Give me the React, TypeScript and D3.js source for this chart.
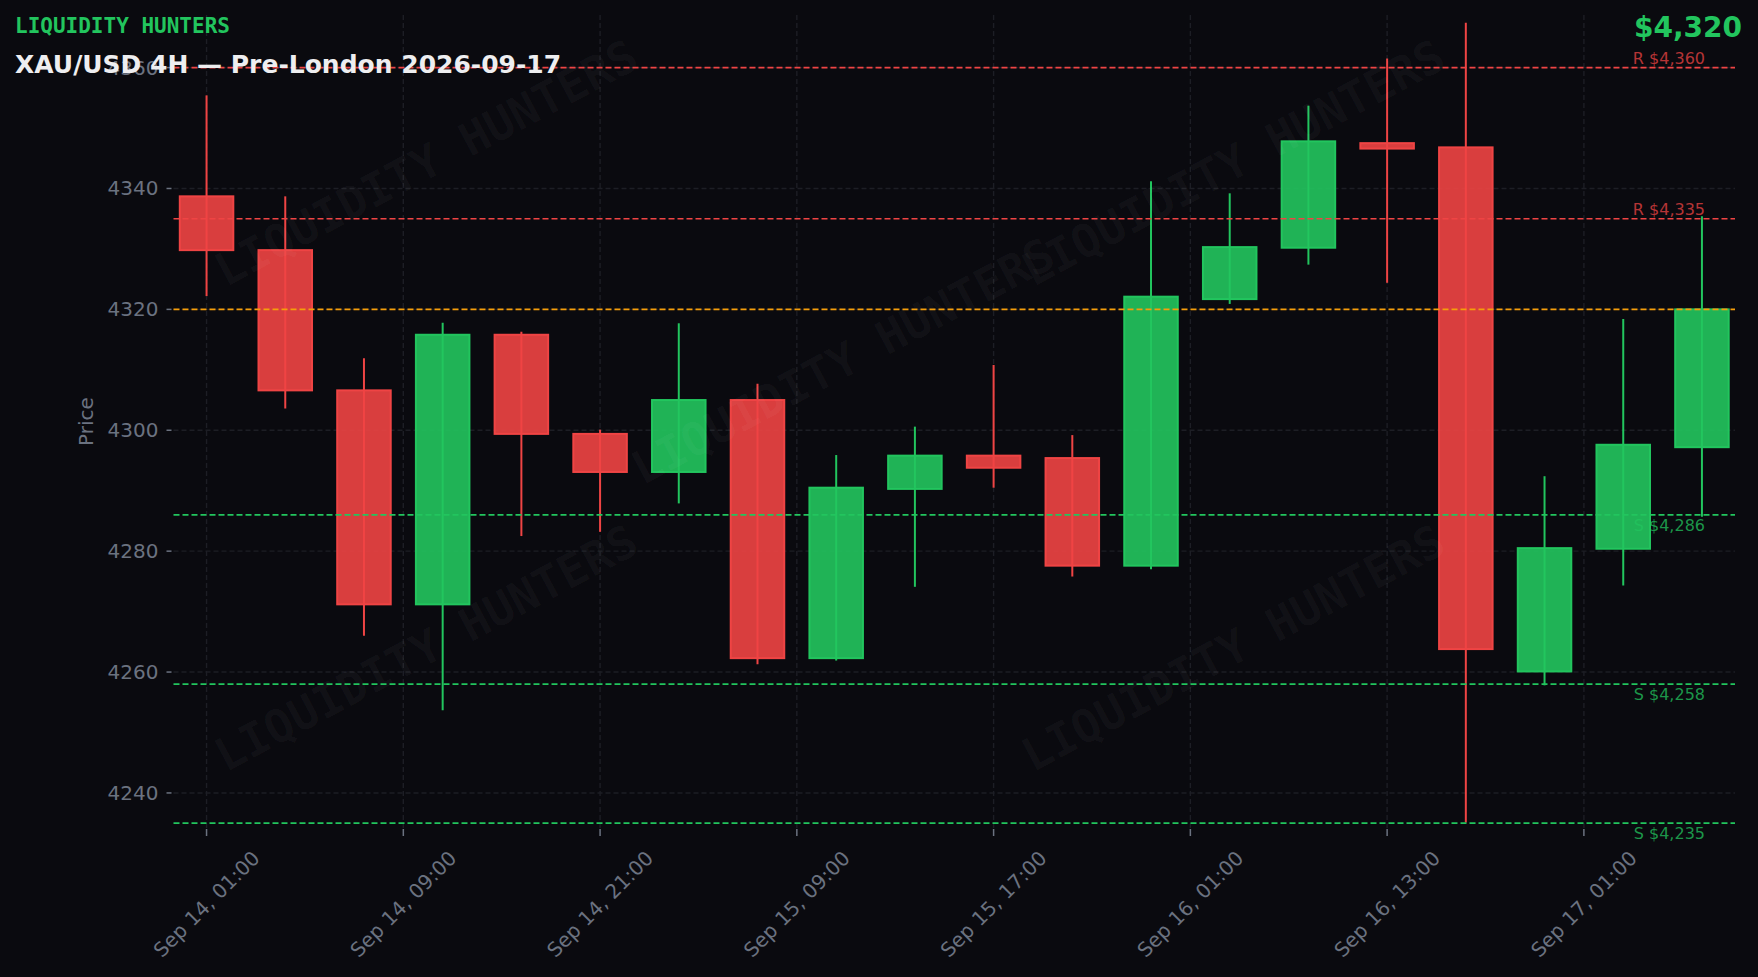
import React from "react";
import * as d3 from "d3";

// ---- data ----
const candleTimes = [
  "Sep 14, 01:00", "Sep 14, 05:00", "Sep 14, 09:00", "Sep 14, 13:00", "Sep 14, 17:00",
  "Sep 14, 21:00", "Sep 15, 01:00", "Sep 15, 05:00", "Sep 15, 09:00", "Sep 15, 13:00",
  "Sep 15, 17:00", "Sep 15, 21:00", "Sep 16, 01:00", "Sep 16, 05:00", "Sep 16, 09:00",
  "Sep 16, 13:00", "Sep 16, 17:00", "Sep 16, 21:00", "Sep 17, 01:00", "Sep 17, 05:00",
];
const opens = [4338.7, 4329.8, 4306.6, 4271.2, 4315.8, 4299.4, 4293.1, 4305.0, 4262.3, 4290.3,
  4295.8, 4295.4, 4277.6, 4321.7, 4330.2, 4347.5, 4346.8, 4260.1, 4280.4, 4297.2];
const highs = [4355.4, 4338.7, 4311.9, 4317.8, 4316.3, 4300.1, 4317.7, 4307.7, 4295.9, 4300.6,
  4310.8, 4299.2, 4341.2, 4339.2, 4353.7, 4361.5, 4367.4, 4292.4, 4318.4, 4335.4];
const lows = [4322.2, 4303.6, 4266.0, 4253.7, 4282.5, 4283.2, 4287.9, 4261.3, 4261.9, 4274.1,
  4290.5, 4275.8, 4277.0, 4320.9, 4327.4, 4324.4, 4235.1, 4257.8, 4274.3, 4285.7];
const closes = [4329.8, 4306.6, 4271.2, 4315.8, 4299.4, 4293.1, 4305.0, 4262.3, 4290.5, 4295.8,
  4293.8, 4277.6, 4322.1, 4330.3, 4347.8, 4346.6, 4263.8, 4280.5, 4297.6, 4320.0];

const xTickPositions = [0, 2.5, 5, 7.5, 10, 12.5, 15, 17.5];
const xTickLabels = [
  "Sep 14, 01:00", "Sep 14, 09:00", "Sep 14, 21:00", "Sep 15, 09:00",
  "Sep 15, 17:00", "Sep 16, 01:00", "Sep 16, 13:00", "Sep 17, 01:00",
];
const yTickValues = [4240, 4260, 4280, 4300, 4320, 4340, 4360];
const levelValues = [4360, 4335, 4286, 4258, 4235];
const levelKinds = ["R", "R", "S", "S", "S"];
const currentPrice = 4320;
const yDomain = [4234.2, 4368.7];

const brandText = "LIQUIDITY HUNTERS";
const titleText = "XAU/USD 4H \u2014 Pre-London 2026-09-17";

// ---- layout / style ----
const W = 1758;
const H = 977;
const plot = { left: 173.5, right: 1735, top: 15, bottom: 828 };
const BG = "#0a0a0f";
const RED = "#ef4444";
const GREEN = "#22c55e";
const ORANGE = "#f59e0b";
const GRID = "#1d1e25";
const AXIS_TEXT = "#6b7280";
const SANS = "'DejaVu Sans', sans-serif";
const MONO = "'DejaVu Sans Mono', monospace";
const watermarkSpots = [
  [0.1617, 0.182], [0.6785, 0.182], [0.4287, 0.4256], [0.1617, 0.7786], [0.6785, 0.7786],
];

export default function App() {
  const x = d3.scaleLinear().domain([-0.42, candleTimes.length - 1 + 0.42]).range([plot.left, plot.right]);
  const y = d3.scaleLinear().domain(yDomain).range([plot.bottom, plot.top]);
  const step = x(1) - x(0);
  const bodyW = step * 0.68;
  const fmt = d3.format(",");

  const candles = candleTimes.map((t, i) => ({
    t, i, o: opens[i], h: highs[i], l: lows[i], c: closes[i],
  }));

  return (
    <svg
      width={W}
      height={H}
      style={{ position: "absolute", left: 0, top: 0, display: "block" }}
      xmlns="http://www.w3.org/2000/svg"
    >
      <rect x={0} y={0} width={W} height={H} fill={BG} />

      {/* grid */}
      <g>
        {yTickValues.map((v) => (
          <line key={"gy" + v} x1={plot.left} x2={plot.right} y1={y(v)} y2={y(v)}
            stroke={GRID} strokeWidth={1.4} strokeDasharray="5,3" />
        ))}
        {xTickPositions.map((p) => (
          <line key={"gx" + p} x1={x(p)} x2={x(p)} y1={plot.top} y2={plot.bottom}
            stroke={GRID} strokeWidth={1.4} strokeDasharray="5,3" />
        ))}
      </g>

      {/* axis ticks and labels */}
      <g>
        {yTickValues.map((v) => (
          <g key={"ty" + v}>
            <line x1={plot.left - 7} x2={plot.left - 2} y1={y(v)} y2={y(v)} stroke={AXIS_TEXT} strokeWidth={1.5} />
            <text x={plot.left - 15} y={y(v)} textAnchor="end" dominantBaseline="central"
              fontFamily={SANS} fontSize={20} fill={AXIS_TEXT}>{v}</text>
          </g>
        ))}
        {xTickPositions.map((p, k) => (
          <g key={"tx" + p}>
            <line x1={x(p)} x2={x(p)} y1={plot.bottom + 1} y2={plot.bottom + 8} stroke={AXIS_TEXT} strokeWidth={1.5} />
            <text transform={`translate(${x(p)},${plot.bottom + 76}) rotate(-45)`} textAnchor="middle"
              dominantBaseline="central" fontFamily={SANS} fontSize={20} fill={AXIS_TEXT}>{xTickLabels[k]}</text>
          </g>
        ))}
        <text transform={`translate(86,${(plot.top + plot.bottom) / 2}) rotate(-90)`} textAnchor="middle"
          dominantBaseline="central" fontFamily={SANS} fontSize={20} fill={AXIS_TEXT}>Price</text>
      </g>

      {/* candles */}
      <g>
        {candles.map((d) => {
          const col = d.c >= d.o ? GREEN : RED;
          const top = y(Math.max(d.o, d.c));
          const bot = y(Math.min(d.o, d.c));
          const cx = x(d.i);
          return (
            <g key={"c" + d.i}>
              <line x1={cx} x2={cx} y1={y(d.h)} y2={y(d.l)} stroke={col} strokeWidth={2} />
              <rect x={cx - bodyW / 2} y={top} width={bodyW} height={Math.max(bot - top, 0.5)}
                fill={col} fillOpacity={0.9} stroke={col} strokeWidth={2} />
            </g>
          );
        })}
      </g>

      {/* watermarks */}
      <g>
        {watermarkSpots.map(([fx, fy], k) => (
          <text key={"wm" + k}
            transform={`translate(${plot.left + fx * (plot.right - plot.left)},${plot.top + fy * (plot.bottom - plot.top)}) rotate(-28)`}
            textAnchor="middle" dominantBaseline="central" fontFamily={MONO} fontWeight="bold"
            fontSize={46} fill="#ffffff" fillOpacity={0.035}>{brandText}</text>
        ))}
      </g>

      {/* levels */}
      <g>
        {levelValues.map((v, k) => (
          <line key={"lv" + v} x1={plot.left} x2={plot.right} y1={y(v)} y2={y(v)}
            stroke={levelKinds[k] === "R" ? RED : GREEN} strokeWidth={1.6} strokeDasharray="6,3" />
        ))}
        <line x1={plot.left} x2={plot.right} y1={y(currentPrice)} y2={y(currentPrice)}
          stroke={ORANGE} strokeWidth={1.6} strokeDasharray="6,3" />
        {levelValues.map((v, k) => {
          const isR = levelKinds[k] === "R";
          return (
            <text key={"ll" + v} x={1705} y={isR ? y(v) - 4 : y(v) + 16} textAnchor="end"
              fontFamily={SANS} fontSize={16} fill={isR ? RED : GREEN} fillOpacity={0.75}>
              {`${levelKinds[k]} $${fmt(v)}`}
            </text>
          );
        })}
      </g>

      {/* titles */}
      <text x={15} y={33} fontFamily={MONO} fontWeight="bold" fontSize={21} fill={GREEN}>{brandText}</text>
      <text x={15} y={73} fontFamily={SANS} fontWeight="bold" fontSize={25} fill="#eeeef0">{titleText}</text>
      <text x={1742} y={37} textAnchor="end" fontFamily={SANS} fontWeight="bold" fontSize={28} fill={GREEN}>
        {`$${fmt(currentPrice)}`}
      </text>
    </svg>
  );
}
